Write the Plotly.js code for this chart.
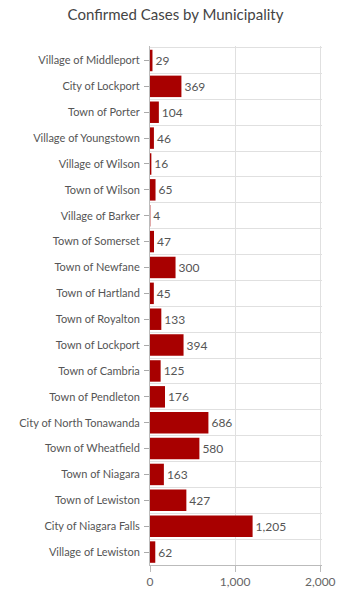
<!DOCTYPE html>
<html><head><meta charset="utf-8">
<script src="https://cdn.plot.ly/plotly-3.0.1.min.js"></script>
<style>html,body{margin:0;padding:0;background:#fff}#chart{width:351px;height:596px}</style>
</head><body><div id="chart"></div>
<script>
const municipalities = ["Village of Middleport","City of Lockport","Town of Porter","Village of Youngstown","Village of Wilson","Town of Wilson","Village of Barker","Town of Somerset","Town of Newfane","Town of Hartland","Town of Royalton","Town of Lockport","Town of Cambria","Town of Pendleton","City of North Tonawanda","Town of Wheatfield","Town of Niagara","Town of Lewiston","City of Niagara Falls","Village of Lewiston"];
const cases = [29,369,104,46,16,65,4,47,300,45,133,394,125,176,686,580,163,427,1205,62];
const xTicks = [0,1000,2000];
const xTickLabels = ["0","1,000","2,000"];

const font = "Lato, 'Open Sans', sans-serif";
const idx = municipalities.map((_, i) => i);
const bounds = municipalities.map((_, i) => i - 0.5).concat([municipalities.length - 0.5]);
const traces = [{
  type:"bar", orientation:"h", x:cases, y:idx,
  marker:{color:"#a80000"},
  text:cases.map(v=>v.toLocaleString("en-US")), textposition:"outside",
  textfont:{size:12,color:"#555",family:font}, cliponaxis:false,
  hoverinfo:"none"
}];
const layout = {
  width:351, height:596, showlegend:false, bargap:0.17,
  paper_bgcolor:"#fff", plot_bgcolor:"#fff",
  margin:{l:150,r:29,t:46,b:31},
  title:{text:"Confirmed Cases by Municipality", x:0.5, xanchor:"center", y:0.975, yanchor:"middle",
    font:{size:15,color:"#444",family:font}},
  xaxis:{range:[0,2020], tickvals:xTicks, ticktext:xTickLabels, showgrid:true, gridcolor:"#e0e0e0",
    zeroline:false, showline:true, linecolor:"#bbb", ticks:"outside", ticklen:6, tickcolor:"#bbb",
    tickfont:{size:12,color:"#666",family:font}, fixedrange:true},
  yaxis:{type:"linear", range:[municipalities.length-0.5, -0.56],
    tickmode:"array", tickvals:idx, ticktext:municipalities,
    showgrid:false, zeroline:false, showline:true, linecolor:"#bbb", ticks:"outside", ticklen:5, tickcolor:"#aaa",
    tickfont:{size:11,color:"#555",family:font}, ticklabelstandoff:2,
    minor:{tickmode:"array", tickvals:bounds, showgrid:true, gridcolor:"#e0e0e0", gridwidth:1, ticks:""}}
};
Plotly.newPlot("chart", traces, layout, {displayModeBar:false, staticPlot:true});
</script></body></html>
